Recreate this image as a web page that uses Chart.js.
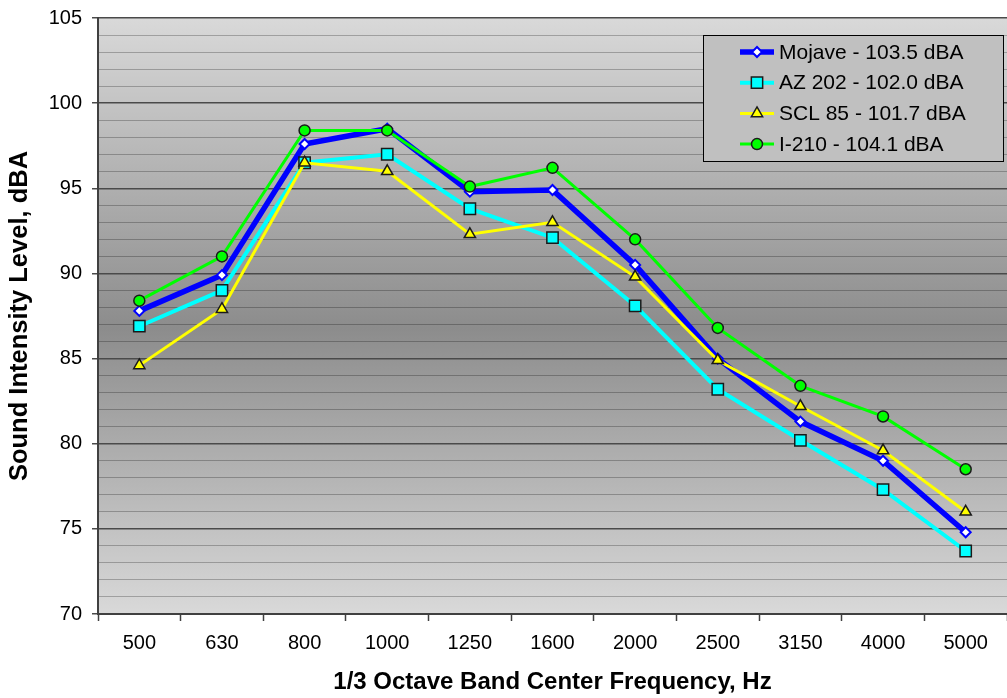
<!DOCTYPE html>
<html>
<head>
<meta charset="utf-8">
<title>Sound Intensity Level</title>
<script src="https://cdn.jsdelivr.net/npm/chart.js@4.4.1/dist/chart.umd.min.js"></script>
<style>
  body { margin: 0; background: #fff; }
  canvas { display: block; }
</style>
</head>
<body>
<canvas id="myChart" width="1007" height="698"></canvas>
<script>
// 1/3 octave band centre frequencies, Hz
const freqs = ['500', '630', '800', '1000', '1250', '1600', '2000', '2500', '3150', '4000', '5000'];

// sound intensity level per band, dBA
const mojave = [87.8, 89.9, 97.6, 98.5, 94.8, 94.9, 90.5, 85.0, 81.3, 79.0, 74.8];
const az202  = [86.9, 89.0, 96.5, 97.0, 93.8, 92.1, 88.1, 83.2, 80.2, 77.3, 73.7];
const scl85  = [84.6, 87.9, 96.5, 96.0, 92.3, 93.0, 89.8, 84.9, 82.2, 79.6, 76.0];
const i210   = [88.4, 91.0, 98.4, 98.4, 95.1, 96.2, 92.0, 86.8, 83.4, 81.6, 78.5];

const seriesNames = ['Mojave - 103.5 dBA', 'AZ 202 - 102.0 dBA', 'SCL 85 - 101.7 dBA', 'I-210 - 104.1 dBA'];

const FONT = 'Arial, "Liberation Sans", sans-serif';

// let the plot run right up to the canvas edge
const fullRight = {
  id: 'fullRight',
  afterLayout(chart) {
    const x = chart.scales.x;
    x.right = chart.width;
    x.width = x.right - x.left;
    x.configure();
    chart.chartArea.right = chart.width;
    chart.chartArea.width = chart.chartArea.right - chart.chartArea.left;
  }
};

// gradient background behind the plot
const plotBg = {
  id: 'plotBg',
  beforeDraw(chart) {
    const {ctx, chartArea: a} = chart;
    ctx.save();
    ctx.fillStyle = '#fff';
    ctx.fillRect(0, 0, chart.width, chart.height);
    const g = ctx.createLinearGradient(0, a.top, 0, a.bottom);
    g.addColorStop(0, '#d9d9d9');
    g.addColorStop(0.52, '#8c8c8c');
    g.addColorStop(1, '#d9d9d9');
    ctx.fillStyle = g;
    ctx.fillRect(a.left, a.top, a.right - a.left, a.bottom - a.top);
    ctx.restore();
  }
};

// boxed legend inside the plot, top right
const boxLegend = {
  id: 'boxLegend',
  afterDraw(chart) {
    const ctx = chart.ctx;
    const x0 = 703, y0 = 35, w = 300, h = 126;
    ctx.save();
    ctx.fillStyle = '#c0c0c0';
    ctx.fillRect(x0, y0, w, h);
    ctx.strokeStyle = '#000';
    ctx.lineWidth = 1;
    ctx.strokeRect(x0 + 0.5, y0 + 0.5, w, h);
    chart.data.datasets.forEach((ds, i) => {
      const y = 52 + i * 30.7;
      ctx.strokeStyle = ds.borderColor;
      ctx.lineWidth = ds.borderWidth;
      ctx.beginPath();
      ctx.moveTo(740, y);
      ctx.lineTo(774, y);
      ctx.stroke();
      ctx.fillStyle = ds.pointBackgroundColor;
      ctx.strokeStyle = ds.pointBorderColor;
      ctx.lineWidth = ds.pointBorderWidth;
      Chart.helpers.drawPoint(ctx, {pointStyle: ds.pointStyle, radius: ds.pointRadius, rotation: 0, borderWidth: ds.pointBorderWidth}, 757, y);
      ctx.fillStyle = '#000';
      ctx.font = '21px ' + FONT;
      ctx.textBaseline = 'middle';
      ctx.textAlign = 'left';
      ctx.fillText(ds.label, 779, y + 1);
    });
    ctx.restore();
  }
};

const ctx = document.getElementById('myChart').getContext('2d');
const myChart = new Chart(ctx, {
  type: 'line',
  data: {
    labels: freqs,
    datasets: [{
      label: seriesNames[0],
      data: mojave,
      borderColor: '#0000ff',
      borderWidth: 5.5,
      pointStyle: 'rectRot',
      pointRadius: 5,
      pointBackgroundColor: '#ffffff',
      pointBorderColor: '#0000ff',
      pointBorderWidth: 2,
      order: 4
    }, {
      label: seriesNames[1],
      data: az202,
      borderColor: '#00ffff',
      borderWidth: 4,
      pointStyle: 'rect',
      pointRadius: 8,
      pointBackgroundColor: '#00ffff',
      pointBorderColor: '#1a1a1a',
      pointBorderWidth: 1.5,
      order: 3
    }, {
      label: seriesNames[2],
      data: scl85,
      borderColor: '#ffff00',
      borderWidth: 3,
      pointStyle: 'triangle',
      pointRadius: 6.5,
      pointBackgroundColor: '#ffff00',
      pointBorderColor: '#1a1a1a',
      pointBorderWidth: 1.5,
      order: 2
    }, {
      label: seriesNames[3],
      data: i210,
      borderColor: '#00ff00',
      borderWidth: 3,
      pointStyle: 'circle',
      pointRadius: 5.5,
      pointBackgroundColor: '#00ff00',
      pointBorderColor: '#1a1a1a',
      pointBorderWidth: 1.5,
      order: 1
    }]
  },
  options: {
    responsive: false,
    animation: false,
    layout: { padding: { top: 18, right: 0, left: 0, bottom: 0 } },
    plugins: { legend: { display: false }, tooltip: { enabled: false } },
    elements: { line: { tension: 0 } },
    scales: {
      x: {
        type: 'category',
        offset: true,
        grid: { offset: true, drawOnChartArea: false, drawTicks: true, tickLength: 7, tickColor: '#404040', tickWidth: 1.5 },
        border: { display: true, color: '#404040', width: 2 },
        ticks: { color: '#000', font: { family: FONT, size: 20 }, padding: 10, maxRotation: 0, autoSkip: false },
        title: { display: true, text: '1/3 Octave Band Center Frequency, Hz', color: '#000',
                 font: { family: FONT, size: 24, weight: 'bold', lineHeight: 1.2 }, padding: { top: 4, bottom: 1 } },
        afterFit(scale) {
          scale.height = 84;
          scale.paddingLeft = 0;
          scale.paddingRight = 0;
        }
      },
      y: {
        min: 70,
        max: 105,
        grid: {
          drawTicks: true,
          tickLength: 6,
          color: c => c.tick.value % 5 === 0 ? '#4a4a4a' : 'rgba(0,0,0,0.25)',
          lineWidth: c => c.tick.value % 5 === 0 ? 1.5 : 1,
          tickColor: c => c.tick.value % 5 === 0 ? '#4a4a4a' : 'rgba(0,0,0,0)'
        },
        border: { display: true, color: '#404040', width: 2 },
        ticks: {
          stepSize: 1,
          maxTicksLimit: 50,
          autoSkip: false,
          color: '#000',
          font: { family: FONT, size: 20 },
          padding: 10,
          callback: v => v % 5 === 0 ? v : ''
        },
        title: { display: true, text: 'Sound Intensity Level, dBA', color: '#000',
                 font: { family: FONT, size: 25.5, weight: 'bold', lineHeight: 1.2 }, padding: { top: 5, bottom: 4 } },
        afterFit(scale) {
          scale.width = 98;
          scale.paddingTop = 0;
          scale.paddingBottom = 0;
        }
      }
    }
  },
  plugins: [fullRight, plotBg, boxLegend]
});
</script>
</body>
</html>
